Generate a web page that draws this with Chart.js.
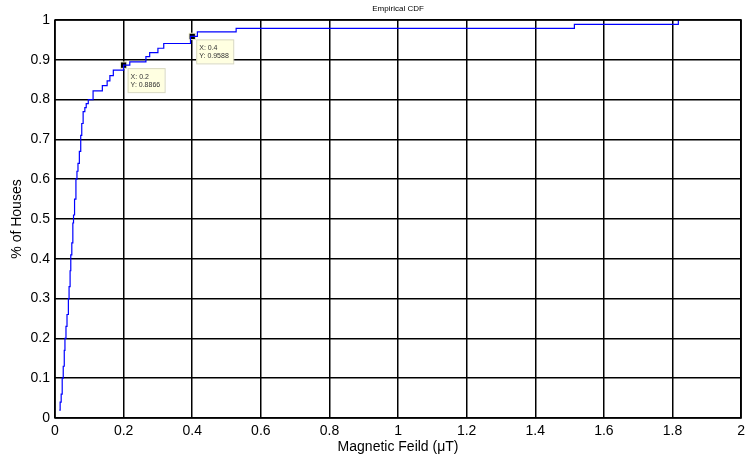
<!DOCTYPE html>
<html>
<head>
<meta charset="utf-8">
<script src="https://cdn.jsdelivr.net/npm/chart.js@4.4.0/dist/chart.umd.min.js"></script>
<style>
  html, body { margin: 0; padding: 0; background: #fff; }
  #wrap { width: 750px; height: 461px; }
</style>
</head>
<body>
<div id="wrap"><canvas id="cdfChart" width="750" height="461"></canvas></div>
<script>
// ECDF jump points
const fieldValues = [0.0125, 0.015, 0.018, 0.021, 0.024, 0.027, 0.029, 0.032, 0.035, 0.039,
  0.041, 0.044, 0.046, 0.049, 0.052, 0.054, 0.057, 0.061, 0.064, 0.067, 0.071, 0.075,
  0.078, 0.082, 0.087, 0.091, 0.097, 0.111, 0.138, 0.152, 0.16, 0.17, 0.2, 0.218,
  0.265, 0.276, 0.30, 0.317, 0.395, 0.415, 0.528, 1.514, 1.817];
const cdfValues = [0.02, 0.04, 0.06, 0.10, 0.13, 0.17, 0.20, 0.23, 0.26, 0.30,
  0.33, 0.37, 0.41, 0.44, 0.49, 0.51, 0.55, 0.60, 0.62, 0.64, 0.67, 0.71,
  0.74, 0.77, 0.78, 0.79, 0.80, 0.822, 0.835, 0.847, 0.86, 0.874, 0.8866, 0.895,
  0.908, 0.918, 0.929, 0.941, 0.9588, 0.970, 0.979, 0.989, 1.0];

// data tips
const tipX = [0.2, 0.4];
const tipY = [0.8866, 0.9588];

const xTicks = [0, 0.2, 0.4, 0.6, 0.8, 1, 1.2, 1.4, 1.6, 1.8, 2];
const yTicks = [0, 0.1, 0.2, 0.3, 0.4, 0.5, 0.6, 0.7, 0.8, 0.9, 1];

const cdfPoints = fieldValues.map((x, i) => ({ x: x, y: cdfValues[i] }));
const tipPoints = tipX.map((x, i) => ({ x: x, y: tipY[i] }));

// frame, title and data-tip boxes
const extras = {
  id: 'extras',
  afterDatasetsDraw(chart) {
    const c = chart.ctx, a = chart.chartArea;
    c.save();
    c.strokeStyle = '#000';
    c.lineWidth = 1.5;
    c.strokeRect(a.left, a.top, a.right - a.left, a.bottom - a.top);

    c.fillStyle = '#000';
    c.font = '8px "Liberation Sans", Arial, sans-serif';
    c.textAlign = 'center';
    c.textBaseline = 'middle';
    c.fillText('Empirical CDF', (a.left + a.right) / 2, 9);

    const xs = chart.scales.x, ys = chart.scales.y;
    tipX.forEach((tx, i) => {
      const px = xs.getPixelForValue(tx), py = ys.getPixelForValue(tipY[i]);
      const bx = px + 4, by = py + 3, bw = 37, bh = 24;
      c.fillStyle = '#ffffe1';
      c.fillRect(bx, by, bw, bh);
      c.strokeStyle = '#d8d8c0';
      c.lineWidth = 1;
      c.strokeRect(bx + 0.5, by + 0.5, bw, bh);
      c.fillStyle = '#333';
      c.font = '7px "Liberation Sans", Arial, sans-serif';
      c.textAlign = 'left';
      c.fillText('X: ' + tx, bx + 3, by + 9);
      c.fillText('Y: ' + tipY[i], bx + 3, by + 17);
    });
    c.restore();
  }
};

const ctx = document.getElementById('cdfChart').getContext('2d');
new Chart(ctx, {
  type: 'line',
  data: {
    datasets: [
      {
        label: 'ECDF',
        data: cdfPoints,
        borderColor: '#0000ff',
        borderWidth: 1.2,
        stepped: true,
        pointRadius: 0,
        fill: false
      },
      {
        label: 'tips',
        data: tipPoints,
        showLine: false,
        pointStyle: 'rect',
        pointRadius: 4.5,
        backgroundColor: '#000',
        borderColor: '#f0f0d0',
        borderWidth: 1
      }
    ]
  },
  options: {
    responsive: false,
    animation: false,
    layout: { padding: { top: 20, right: 7, left: 0, bottom: 0 } },
    plugins: { legend: { display: false }, tooltip: { enabled: false } },
    scales: {
      x: {
        type: 'linear',
        min: 0,
        max: 2,
        afterBuildTicks: s => { s.ticks = xTicks.map(v => ({ value: v })); },
        afterFit: s => { s.height = 43; },
        grid: { color: '#000', lineWidth: 1.5, drawTicks: false },
        border: { display: false },
        ticks: {
          color: '#000',
          padding: 5,
          font: { family: '"Liberation Sans", Arial, sans-serif', size: 14 },
          callback: v => String(v)
        },
        title: {
          display: true,
          text: 'Magnetic Feild (μT)',
          color: '#000',
          padding: { top: 0, bottom: 5 },
          font: { family: '"Liberation Sans", Arial, sans-serif', size: 14 }
        }
      },
      y: {
        type: 'linear',
        min: 0,
        max: 1,
        afterBuildTicks: s => { s.ticks = yTicks.map(v => ({ value: v })); },
        afterFit: s => { s.width = 55; },
        grid: { color: '#000', lineWidth: 1.5, drawTicks: false },
        border: { display: false },
        ticks: {
          color: '#000',
          padding: 5,
          font: { family: '"Liberation Sans", Arial, sans-serif', size: 14 },
          callback: v => String(v)
        },
        title: {
          display: true,
          text: '% of Houses',
          color: '#000',
          padding: { top: 9, bottom: 0 },
          font: { family: '"Liberation Sans", Arial, sans-serif', size: 14 }
        }
      }
    }
  },
  plugins: [extras]
});
</script>
</body>
</html>
